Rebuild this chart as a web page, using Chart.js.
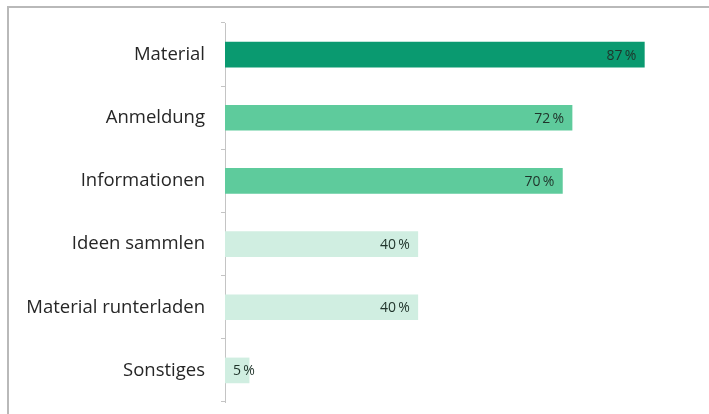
<!DOCTYPE html>
<html>
<head>
<meta charset="utf-8">
<script src="https://cdn.jsdelivr.net/npm/chart.js@4"></script>
<style>
  html, body { margin: 0; padding: 0; background: #ffffff; }
  #wrap { position: relative; width: 709px; height: 414px; overflow: hidden; }
  #frame {
    position: absolute; left: 7px; top: 6px; width: 720px; height: 420px;
    border-top: 2px solid #b9b9b9; border-left: 2px solid #b9b9b9;
  }
  canvas { position: absolute; left: 0; top: 0; }
</style>
</head>
<body>
<div id="wrap">
  <div id="frame"></div>
  <canvas id="answers" width="709" height="414"></canvas>
</div>
<script>
// Anteil der Antworten je Kategorie
const categories = ["Material", "Anmeldung", "Informationen", "Ideen sammlen", "Material runterladen", "Sonstiges"];
const shares = [87, 72, 70, 40, 40, 5];
const barColors = ["#0a9a70", "#5ecb9c", "#5ecb9c", "#d0eee1", "#d0eee1", "#d0eee1"];

// writes "NN %" inside the right end of each bar (pushed right of the axis for short bars)
const valueLabels = {
  id: "valueLabels",
  afterDatasetsDraw(chart) {
    const ctx = chart.ctx;
    const meta = chart.getDatasetMeta(0);
    ctx.save();
    ctx.font = "14px 'Open Sans'";
    ctx.fillStyle = "#1f332a";
    ctx.textAlign = "right";
    ctx.textBaseline = "middle";
    meta.data.forEach((bar, i) => {
      const text = shares[i] + "\u2009%";
      const w = ctx.measureText(text).width;
      const x = Math.max(bar.x - 8, bar.base + 8 + w);
      ctx.fillText(text, x, bar.y + 1);
    });
    ctx.restore();
  },
};

const ctx = document.getElementById("answers").getContext("2d");
new Chart(ctx, {
  type: "bar",
  data: {
    labels: categories,
    datasets: [
      {
        data: shares,
        backgroundColor: barColors,
        barThickness: 25,
      },
    ],
  },
  options: {
    indexAxis: "y",
    responsive: false,
    animation: false,
    layout: { padding: { top: 23, bottom: 12, left: 0, right: 2 } },
    plugins: {
      legend: { display: false },
      tooltip: { enabled: false },
    },
    scales: {
      x: {
        display: false,
        min: 0,
        max: 100,
      },
      y: {
        afterFit: (scale) => {
          scale.width = 225;
          scale.paddingTop = 0;
          scale.paddingBottom = 0;
        },
        grid: {
          drawOnChartArea: false,
          drawTicks: true,
          tickLength: 4,
          color: "#c4c4c4",
        },
        border: { display: true, color: "#c4c4c4", width: 1 },
        ticks: {
          padding: 16,
          color: "#262626",
          font: { size: 18.5, family: "Open Sans" },
        },
      },
    },
  },
  plugins: [valueLabels],
});
</script>
</body>
</html>
